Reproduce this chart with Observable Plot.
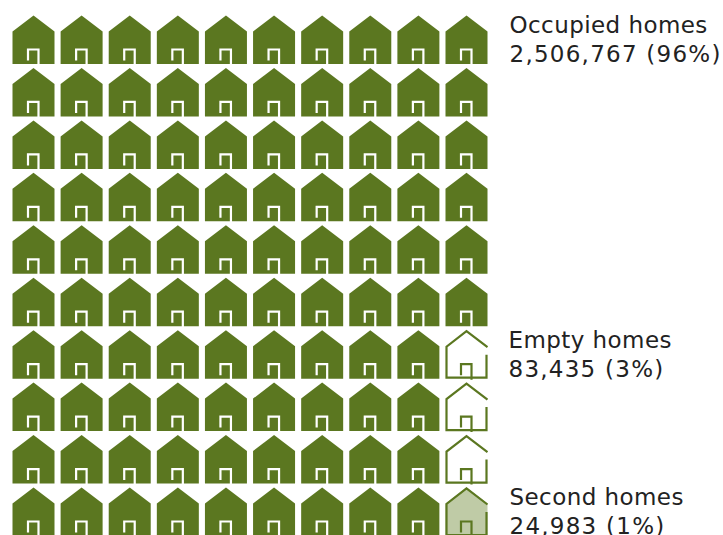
<!DOCTYPE html>
<html>
<head>
<meta charset="utf-8">
<style>
html,body{margin:0;padding:0;background:#fff;overflow:hidden}
svg{display:block}
</style>
<script src="https://cdn.jsdelivr.net/npm/d3@7"></script>
<script src="https://cdn.jsdelivr.net/npm/@observablehq/plot@0.6"></script>
</head>
<body>
<div id="chart"></div>
<script>
const categories = ["Occupied homes", "Empty homes", "Second homes"];
const counts = [96, 3, 1];
const valueLabels = ["2,506,767 (96%)", "83,435 (3%)", "24,983 (1%)"];
const labelRows = [0, 6, 9];
const fills = ["#5b7720", "#ffffff", "#bfcba6"];
const green = "#5b7720";
const gridSize = 10;

// one cell per home, filled column by column
const kinds = categories.flatMap((c, i) => d3.range(counts[i]).map(() => i));
const cells = kinds.map((kind, i) => ({
  kind,
  col: Math.floor(i / gridSize),
  row: i % gridSize
}));
const labels = categories.map((c, i) => ({
  name: c,
  value: valueLabels[i],
  row: labelRows[i]
}));

const bodySymbol = {draw(c) {
  c.moveTo(-21, -8.5); c.lineTo(0, -24.5); c.lineTo(21, -8.5);
  c.lineTo(21, 24); c.lineTo(-21, 24); c.closePath();
}};
const outlineSymbol = {draw(c) {
  c.moveTo(21, -7.5); c.lineTo(0, -23.5); c.lineTo(-20, -8);
  c.lineTo(-20, 23); c.lineTo(20, 23); c.lineTo(20, 0);
}};
const doorSymbol = {draw(c) {
  c.moveTo(-5.5, 20.5); c.lineTo(-5.5, 9.5); c.lineTo(5, 9.5); c.lineTo(5, 25);
}};
const textStyle = {
  textAnchor: "start", lineAnchor: "middle",
  fontFamily: "'DejaVu Sans', Verdana, sans-serif", fontSize: 23,
  fill: "#222"
};
const isOccupied = d => d.kind === 0;

const labelMarks = labels.flatMap(d => {
  const dx = d.row === 6 ? 42 : 43;
  return [
    Plot.text([d], {x: gridSize - 1, y: "row", text: "name", dx, dy: -14.5, ...textStyle,
      render: (i, s, v, dim, ctx, next) => {
        const g = next(i, s, v, dim, ctx);
        g.style.letterSpacing = "0.43px";
        return g;
      }}),
    Plot.text([d], {x: gridSize - 1, y: "row", text: "value", dx, dy: 14.5, ...textStyle,
      render: (i, s, v, dim, ctx, next) => {
        const g = next(i, s, v, dim, ctx);
        g.style.letterSpacing = "1.25px";
        return g;
      }})
  ];
});

const chart = Plot.plot({
  width: 723, height: 535,
  margin: 0,
  x: {type: "linear", domain: [0, 9], range: [33, 466], axis: null},
  y: {type: "linear", domain: [0, 9], range: [39.5, 511.5], axis: null},
  marks: [
    Plot.dot(cells, {x: "col", y: "row", symbol: bodySymbol, fill: d => fills[d.kind], stroke: "none"}),
    Plot.dot(cells.filter(d => !isOccupied(d)), {x: "col", y: "row", symbol: outlineSymbol, fill: "none", stroke: green, strokeWidth: 2.2}),
    Plot.dot(cells, {x: "col", y: "row", symbol: doorSymbol, fill: "none", strokeWidth: 2.2, stroke: d => isOccupied(d) ? "#ffffff" : green}),
    ...labelMarks
  ]
});
document.getElementById("chart").appendChild(chart);
</script>
</body>
</html>
